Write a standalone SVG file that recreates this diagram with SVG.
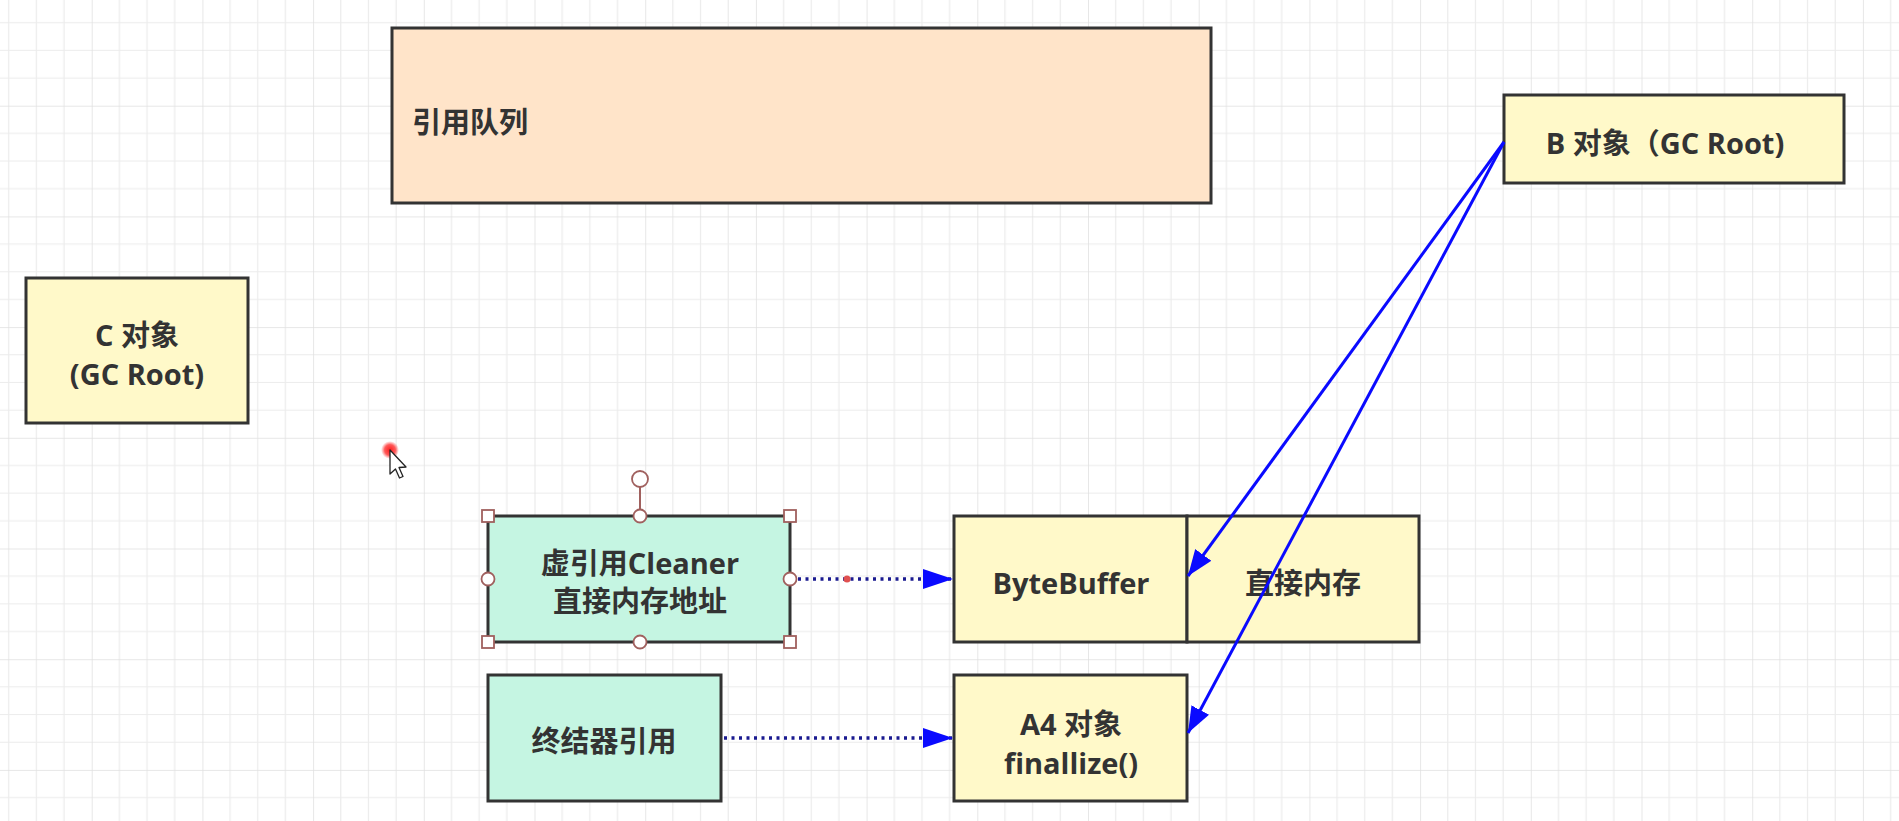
<svg xmlns="http://www.w3.org/2000/svg" width="1899" height="821" viewBox="0 0 1899 821">
<defs>
<pattern id="grid" x="-19" y="-5" width="110.7" height="110.7" patternUnits="userSpaceOnUse">
<path d="M27.675 0V110.7M55.35 0V110.7M83.025 0V110.7M0 27.675H110.7M0 55.35H110.7M0 83.025H110.7" stroke="#ececec" stroke-width="1.2" fill="none"/>
<path d="M0 0V110.7M0 0H110.7" stroke="#e0e0e0" stroke-width="1.5" fill="none"/>
</pattern>
<marker id="blueHead" markerUnits="userSpaceOnUse" markerWidth="30" markerHeight="24" refX="26" refY="10" orient="auto">
<path d="M0 0L26 10L0 20Z" fill="#0a0aff"/>
</marker>
<marker id="dotHead" markerUnits="userSpaceOnUse" markerWidth="34" markerHeight="24" refX="30" refY="10" orient="auto">
<path d="M0 0L30 10L0 20Z" fill="#0a0aff"/>
</marker>
<radialGradient id="redDot">
<stop offset="0" stop-color="#ff1a1a"/>
<stop offset="0.6" stop-color="#ff3030" stop-opacity="0.8"/>
<stop offset="1" stop-color="#ff5050" stop-opacity="0"/>
</radialGradient>
</defs>
<style>
.box{stroke:#333;stroke-width:3}
.yellow{fill:#fff9c9}
.peach{fill:#ffe4c9}
.mint{fill:#c5f5e2}
.t{font-family:"Open Sans","Noto Sans CJK SC",sans-serif;font-weight:bold;font-size:29px;fill:#333;dominant-baseline:central}
.blue{stroke:#0a0aff;stroke-width:3;fill:none}
.dots{stroke:#1a1a90;stroke-width:3.5;stroke-dasharray:3 4.5;fill:none}
.handle{fill:#fff;stroke:#a0605e;stroke-width:1.8}
</style>
<rect width="1899" height="821" fill="#ffffff"/>
<rect width="1899" height="821" fill="url(#grid)"/>

<g id="queue">
<rect class="box peach" x="392" y="28" width="819" height="175"/>
<text class="t" x="412" y="121">引用队列</text>
</g>

<g id="b-object">
<rect class="box yellow" x="1504" y="95" width="340" height="88"/>
<text class="t" x="1665" y="142" text-anchor="middle">B 对象（GC Root)</text>
</g>

<g id="c-object">
<rect class="box yellow" x="26" y="278" width="222" height="145"/>
<text class="t" x="137" y="334" text-anchor="middle">C 对象</text>
<text class="t" x="137" y="373" text-anchor="middle">(GC Root)</text>
</g>

<g id="cleaner">
<rect class="box mint" x="488" y="516" width="302" height="126"/>
<text class="t" x="640" y="562" text-anchor="middle">虚引用Cleaner</text>
<text class="t" x="640" y="600" text-anchor="middle">直接内存地址</text>
</g>

<g id="bytebuffer">
<rect class="box yellow" x="954" y="516" width="233" height="126"/>
<text class="t" x="1071" y="582" text-anchor="middle">ByteBuffer</text>
</g>

<g id="direct-memory">
<rect class="box yellow" x="1187" y="516" width="232" height="126"/>
<text class="t" x="1303" y="582" text-anchor="middle">直接内存</text>
</g>

<g id="finalizer-ref">
<rect class="box mint" x="488" y="675" width="233" height="126"/>
<text class="t" x="604" y="740" text-anchor="middle">终结器引用</text>
</g>

<g id="a4-object">
<rect class="box yellow" x="954" y="675" width="233" height="126"/>
<text class="t" x="1071" y="723" text-anchor="middle">A4 对象</text>
<text class="t" x="1071" y="762" text-anchor="middle">finallize()</text>
</g>

<g id="connectors">
<line class="blue" x1="1504" y1="142" x2="1188" y2="576" marker-end="url(#blueHead)"/>
<line class="blue" x1="1504" y1="142" x2="1188" y2="733" marker-end="url(#blueHead)"/>
<line class="dots" x1="798" y1="579" x2="953" y2="579" marker-end="url(#dotHead)"/>
<line class="dots" x1="724" y1="738" x2="953" y2="738" marker-end="url(#dotHead)"/>
<circle cx="847" cy="579" r="3.5" fill="#e05050"/>
</g>

<g id="selection-handles">
<line x1="640" y1="487" x2="640" y2="516" stroke="#a0605e" stroke-width="2"/>
<circle class="handle" cx="640" cy="479" r="8"/>
<rect class="handle" x="482" y="510" width="12" height="12"/>
<rect class="handle" x="784" y="510" width="12" height="12"/>
<rect class="handle" x="482" y="636" width="12" height="12"/>
<rect class="handle" x="784" y="636" width="12" height="12"/>
<circle class="handle" cx="640" cy="516" r="6.5"/>
<circle class="handle" cx="640" cy="642" r="6.5"/>
<circle class="handle" cx="488" cy="579" r="6.5"/>
<circle class="handle" cx="790" cy="579" r="6.5"/>
</g>

<g id="cursor">
<circle cx="390" cy="450" r="9" fill="url(#redDot)"/>
<path d="M390 450L390 474L395.5 469L399.5 478L403 476.5L399 467.5L406 467Z" fill="#fff" stroke="#222" stroke-width="1.3" stroke-linejoin="round"/>
</g>
</svg>
